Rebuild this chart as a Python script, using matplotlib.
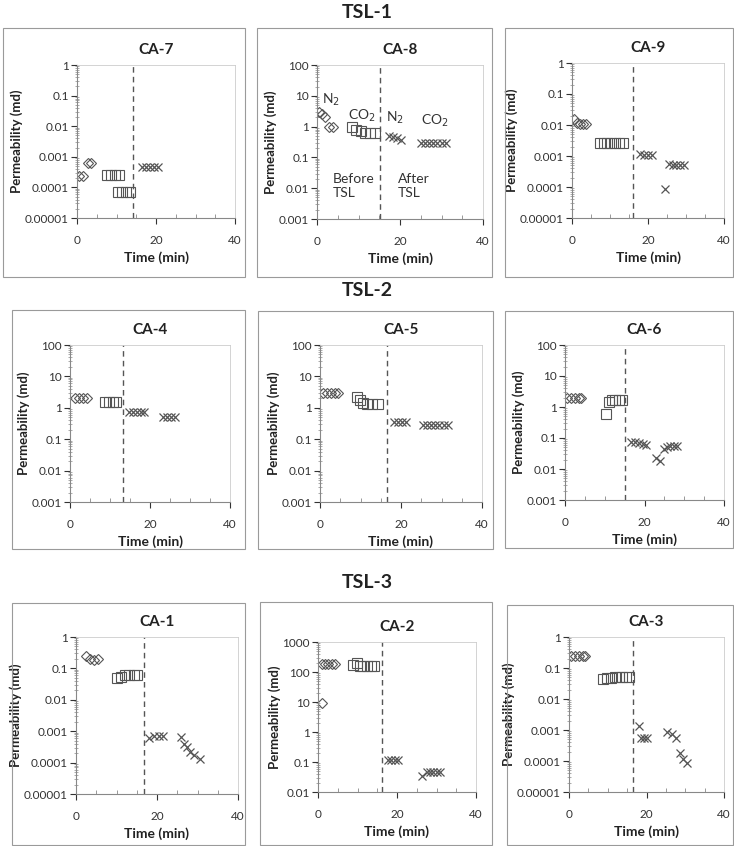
import numpy as np
import matplotlib
matplotlib.use('Agg')
import matplotlib.pyplot as plt
from matplotlib.ticker import FuncFormatter, LogLocator, MultipleLocator
from matplotlib.patches import Rectangle

plt.rcParams['font.family'] = ['Lato', 'DejaVu Sans']

# ---- data (time in min, permeability in md) ----
# TSL-1
ca7_dia_t = [0.5, 1.5, 2.7, 3.6]
ca7_dia_k = [2.3e-4, 2.3e-4, 6.3e-4, 6.3e-4]
ca7_sq_t = [7.6, 8.6, 9.6, 10.6, 10.5, 11.5, 12.5, 13.5]
ca7_sq_k = [2.5e-4, 2.5e-4, 2.5e-4, 2.5e-4, 7e-5, 7e-5, 7e-5, 7e-5]
ca7_x_t = [16.5, 17.5, 18.5, 19.5, 20.5]
ca7_x_k = [4.8e-4, 4.8e-4, 4.8e-4, 4.8e-4, 4.8e-4]

ca8_dia_t = [0.5, 1.2, 1.9, 3.0, 3.8]
ca8_dia_k = [3.0, 2.5, 2.0, 1.0, 1.0]
ca8_sq_t = [8.4, 9.5, 10.5, 11.6, 12.8, 14.0]
ca8_sq_k = [0.95, 0.8, 0.72, 0.63, 0.6, 0.6]
ca8_x_t = [17.3, 18.3, 19.3, 20.3, 25, 26, 27, 28, 29, 30, 31]
ca8_x_k = [0.5, 0.45, 0.42, 0.38, 0.3, 0.3, 0.3, 0.3, 0.3, 0.3, 0.3]

ca9_dia_t = [0.4, 1.2, 2.0, 2.8, 3.7]
ca9_dia_k = [0.016, 0.012, 0.011, 0.011, 0.011]
ca9_sq_t = [7.3, 8.3, 9.3, 10.3, 11.3, 12.3, 13.3]
ca9_sq_k = [0.0026, 0.0026, 0.0026, 0.0026, 0.0026, 0.0026, 0.0026]
ca9_x_t = [18, 19, 20, 21, 24.6, 25.5, 26.5, 27.5, 28.5, 29.5]
ca9_x_k = [0.0012, 0.0011, 0.0011, 0.0011, 8.7e-5, 5.6e-4, 5.3e-4, 5.3e-4, 5.3e-4, 5.3e-4]

# TSL-2
ca4_dia_t = [1.2, 2.2, 3.2, 4.2]
ca4_dia_k = [2.1, 2.1, 2.1, 2.1]
ca4_sq_t = [8.8, 9.8, 10.8, 11.6]
ca4_sq_k = [1.55, 1.55, 1.55, 1.55]
ca4_x_t = [14.8, 15.8, 16.8, 17.8, 18.6, 23.2, 24.2, 25.2, 26.2]
ca4_x_k = [0.74, 0.74, 0.74, 0.74, 0.74, 0.52, 0.52, 0.52, 0.52]

ca5_dia_t = [0.8, 1.8, 2.8, 3.8, 4.4]
ca5_dia_k = [2.9, 2.9, 2.9, 2.9, 2.9]
ca5_sq_t = [9.1, 9.9, 10.7, 11.5, 12.8, 14.4]
ca5_sq_k = [2.2, 1.8, 1.47, 1.3, 1.3, 1.3]
ca5_x_t = [18.2, 19.2, 20.2, 21.2, 25.5, 26.5, 27.5, 28.5, 29.5, 30.5, 31.5]
ca5_x_k = [0.36, 0.36, 0.36, 0.36, 0.28, 0.28, 0.28, 0.28, 0.28, 0.28, 0.28]

ca6_dia_t = [0.5, 1.5, 2.5, 3.5, 4.0]
ca6_dia_k = [1.9, 1.9, 1.9, 1.9, 1.9]
ca6_sq_t = [10.2, 11.0, 11.8, 12.6, 13.5, 14.3]
ca6_sq_k = [0.58, 1.5, 1.7, 1.7, 1.7, 1.7]
ca6_x_t = [16.7, 17.5, 18.5, 19.5, 20.4, 23.0, 23.8, 24.9, 25.7, 26.5, 27.3, 28.2]
ca6_x_k = [0.075, 0.072, 0.068, 0.065, 0.06, 0.022, 0.018, 0.045, 0.05, 0.055, 0.055, 0.055]

# TSL-3
ca1_dia_t = [2.5, 3.5, 4.5, 5.5]
ca1_dia_k = [0.25, 0.2, 0.19, 0.2]
ca1_sq_t = [10.2, 11.2, 12.2, 13.2, 14.2, 15.0]
ca1_sq_k = [0.05, 0.055, 0.06, 0.062, 0.062, 0.062]
ca1_x_t = [18.0, 19.2, 20.4, 21.6, 26.0, 26.6, 27.4, 28.2, 29.2, 30.6]
ca1_x_k = [5.9e-4, 7e-4, 7e-4, 7e-4, 6.6e-4, 3.9e-4, 3.2e-4, 2.2e-4, 1.7e-4, 1.3e-4]

ca2_dia_t = [1.0, 1.0, 1.8, 2.6, 3.6, 4.2]
ca2_dia_k = [9, 190, 190, 190, 190, 190]
ca2_sq_t = [8.9, 9.8, 10.6, 11.5, 12.4, 13.3, 14.2]
ca2_sq_k = [170, 200, 160, 160, 160, 160, 160]
ca2_x_t = [17.8, 18.6, 19.5, 20.3, 26.3, 27.5, 28.3, 29.2, 30.0, 30.8]
ca2_x_k = [0.12, 0.12, 0.12, 0.12, 0.033, 0.046, 0.046, 0.046, 0.046, 0.046]

ca3_dia_t = [0.5, 1.5, 2.5, 3.5, 4.0]
ca3_dia_k = [0.25, 0.25, 0.25, 0.25, 0.25]
ca3_sq_t = [8.8, 9.8, 10.8, 11.8, 12.8, 13.8, 14.8, 15.4]
ca3_sq_k = [0.045, 0.047, 0.049, 0.05, 0.05, 0.05, 0.05, 0.05]
ca3_x_t = [18.1, 18.5, 19.3, 20.2, 25.4, 26.5, 27.5, 28.7, 29.5, 30.5]
ca3_x_k = [0.0013, 5.4e-4, 5.4e-4, 5.4e-4, 8.9e-4, 7.4e-4, 5.4e-4, 1.8e-4, 1.2e-4, 8.5e-5]

names = ['CA-7', 'CA-8', 'CA-9', 'CA-4', 'CA-5', 'CA-6', 'CA-1', 'CA-2', 'CA-3']
tsl_time = [14.3, 15.2, 16.1, 13.3, 16.5, 15.1, 16.8, 16.1, 16.5]
y_lims = [(1e-5, 1), (1e-3, 100), (1e-5, 1), (1e-3, 100), (1e-3, 100), (1e-3, 100),
          (1e-5, 1), (1e-2, 1000), (1e-5, 1)]
series = [
    (ca7_dia_t, ca7_dia_k, ca7_sq_t, ca7_sq_k, ca7_x_t, ca7_x_k),
    (ca8_dia_t, ca8_dia_k, ca8_sq_t, ca8_sq_k, ca8_x_t, ca8_x_k),
    (ca9_dia_t, ca9_dia_k, ca9_sq_t, ca9_sq_k, ca9_x_t, ca9_x_k),
    (ca4_dia_t, ca4_dia_k, ca4_sq_t, ca4_sq_k, ca4_x_t, ca4_x_k),
    (ca5_dia_t, ca5_dia_k, ca5_sq_t, ca5_sq_k, ca5_x_t, ca5_x_k),
    (ca6_dia_t, ca6_dia_k, ca6_sq_t, ca6_sq_k, ca6_x_t, ca6_x_k),
    (ca1_dia_t, ca1_dia_k, ca1_sq_t, ca1_sq_k, ca1_x_t, ca1_x_k),
    (ca2_dia_t, ca2_dia_k, ca2_sq_t, ca2_sq_k, ca2_x_t, ca2_x_k),
    (ca3_dia_t, ca3_dia_k, ca3_sq_t, ca3_sq_k, ca3_x_t, ca3_x_k),
]

# layout in pixels: axes (left, top, right, bottom) and frames
W, H = 734, 846
axes_px = [(77, 65, 235, 218), (317, 65, 483, 219), (572, 63, 724, 218),
           (70, 345, 230, 502), (320, 345, 482, 502), (565, 345, 724, 500),
           (76, 637, 238, 794), (318, 642, 476, 792), (569, 637, 724, 792)]
frames_px = [(3, 28, 245, 277), (257, 28, 492, 277), (505, 28, 733, 277),
             (12, 310, 245, 549), (258, 311, 493, 549), (505, 311, 733, 548),
             (12, 603, 245, 845), (260, 602, 492, 845), (507, 605, 733, 845)]
sections = ['TSL-1', 'TSL-2', 'TSL-3']
section_y = [12, 291, 582]

fig = plt.figure(figsize=(W / 100, H / 100), dpi=100)
fig.patch.set_facecolor('white')

for (x0, y0, x1, y1) in frames_px:
    fig.patches.append(Rectangle((x0 / W, 1 - y1 / H), (x1 - x0) / W, (y1 - y0) / H,
                                 transform=fig.transFigure, fill=False,
                                 edgecolor='#9a9a9a', linewidth=0.8))

for s, yy in zip(sections, section_y):
    fig.text(0.5, 1 - yy / H, s, ha='center', va='center', fontsize=14,
             fontweight='bold', color='#222222')


def fmt(v, pos):
    if v >= 1:
        return '%d' % round(v)
    return ('%.10f' % v).rstrip('0')


mc = '#555555'
for i in range(9):
    x0, y0, x1, y1 = axes_px[i]
    ax = fig.add_axes([x0 / W, 1 - y1 / H, (x1 - x0) / W, (y1 - y0) / H])
    dt, dk, st, sk, xt, xk = series[i]
    ax.plot(dt, dk, 'D', ms=5.5, mfc='none', mec=mc, mew=0.8)
    ax.plot(st, sk, 's', ms=7, mfc='none', mec=mc, mew=0.8)
    ax.plot(xt, xk, 'x', ms=6, color=mc, mew=0.9)
    ax.set_yscale('log')
    ax.set_ylim(*y_lims[i])
    ax.set_xlim(0, 40)
    ax.axvline(tsl_time[i], color='#555555', ls=(0, (4, 3)), lw=1.0)
    ax.xaxis.set_major_locator(MultipleLocator(20))
    ax.xaxis.set_minor_locator(MultipleLocator(5))
    ax.yaxis.set_major_locator(LogLocator(base=10, numticks=20))
    ax.yaxis.set_minor_locator(LogLocator(base=10, subs=np.arange(2, 10), numticks=20))
    ax.yaxis.set_major_formatter(FuncFormatter(fmt))
    ax.yaxis.set_minor_formatter(FuncFormatter(lambda v, p: ''))
    ax.tick_params(axis='both', which='major', labelsize=8.5, colors='#333333',
                   direction='out', length=4, width=0.8)
    ax.tick_params(axis='y', which='major', pad=2)
    ax.tick_params(axis='y', which='minor', direction='inout', length=3, width=0.5,
                   color='#888888')
    ax.tick_params(axis='x', which='minor', direction='in', length=3, width=0.6,
                   color='#888888')
    ax.tick_params(axis='x', which='major', pad=8)
    for sp in ['left', 'bottom']:
        ax.spines[sp].set_color('#888888')
    for sp in ['top', 'right']:
        ax.spines[sp].set_color('#cccccc')
        ax.spines[sp].set_linewidth(0.6)
    ax.set_title(names[i], fontsize=11, fontweight='bold', color='#222222', pad=8)
    ax.set_xlabel('Time (min)', fontsize=10, fontweight='bold', color='#222222')
    ax.set_ylabel('Permeability (md)', fontsize=9.5, fontweight='bold', color='#222222',
                  labelpad=1)

    if names[i] == 'CA-8':
        ax.text(1.3, 7.4, 'N$_2$', fontsize=10, ha='left', va='center', color='#333333')
        ax.text(10.8, 2.2, 'CO$_2$', fontsize=10, ha='center', va='center', color='#333333')
        ax.text(18.8, 2.0, 'N$_2$', fontsize=10, ha='center', va='center', color='#333333')
        ax.text(28.4, 1.5, 'CO$_2$', fontsize=10, ha='center', va='center', color='#333333')
        ax.text(3.8, 0.012, 'Before\nTSL', fontsize=10, ha='left', va='center',
                color='#333333', linespacing=1.2)
        ax.text(19.5, 0.012, 'After\nTSL', fontsize=10, ha='left', va='center',
                color='#333333', linespacing=1.2)

fig.savefig('out.png', dpi=100)
